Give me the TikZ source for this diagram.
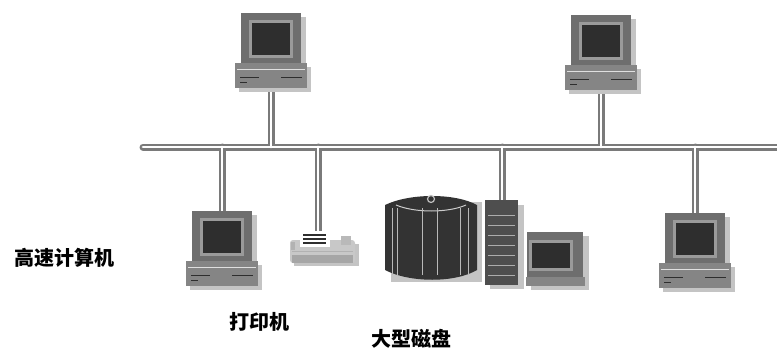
\documentclass[tikz,border=0pt]{standalone}
\usepackage{fontspec}
\newfontfamily\cjk{Noto Sans CJK SC}
\definecolor{pipegray}{HTML}{7A7A7A}
\definecolor{bodygray}{HTML}{6E6E6E}
\definecolor{bezelgray}{HTML}{9A9A9A}
\definecolor{screengray}{HTML}{2E2E2E}
\definecolor{casegray}{HTML}{858585}
\definecolor{shadowgray}{HTML}{C4C4C4}
\definecolor{diskgray}{HTML}{333333}
\definecolor{printgray}{HTML}{C8C8C8}
\begin{document}
\begin{tikzpicture}[x=1pt,y=-1pt,
  pipeouter/.style={draw=pipegray,line width=7pt,line cap=round},
  pipeinner/.style={draw=white,line width=2.8pt,line cap=round},
  lbl/.style={font=\cjk\bfseries\fontsize{20}{24}\selectfont,inner sep=0pt},
  desktop/.pic={
    % soft drop shadow
    \fill[shadowgray] (-26,-46) rectangle (35,4);
    \fill[shadowgray] (-32,4) rectangle (40,29);
    % monitor
    \fill[bodygray] (-30,-50) rectangle (30,0);
    \fill[bezelgray] (-22,-43) rectangle (22,-5);
    \fill[screengray] (-19,-40) rectangle (19,-8);
    % system case
    \fill[casegray] (-36,0) rectangle (36,25);
    \draw[white!75!gray,line width=1pt] (-34,6) -- (34,6);
    \draw[screengray,line width=1pt] (-31,14) -- (-12,14) (10,14) -- (31,14);
    \draw[screengray,line width=0.8pt] (-31,19) -- (-24,19);
    \coordinate (-top) at (0,-50);
    \coordinate (-bottom) at (0,25);
  }]
\useasboundingbox (0,0) rectangle (777,348);

% bus and tap points
\coordinate (busL) at (143,147);
\coordinate (busR) at (780,147);
\coordinate (tapA) at (222,147);
\coordinate (tapB) at (271,147);
\coordinate (tapC) at (318,147);
\coordinate (tapD) at (502,147);
\coordinate (tapE) at (601,147);
\coordinate (tapF) at (695,147);

% attach points of the devices
\coordinate (prn-top) at (318,234);
\coordinate (tower-top) at (502,202);
\coordinate (pc1-bottom) at (271,86);
\coordinate (pc2-bottom) at (601,88);
\coordinate (pc3-top) at (222,212);
\coordinate (pc4-top) at (695,214);

% cable: outer stroke, then hollow core
\foreach \s in {pipeouter,pipeinner}{
  \draw[\s] (busL) -- (busR);
  \draw[\s] (pc1-bottom) -- (tapB);
  \draw[\s] (pc2-bottom) -- (tapE);
  \draw[\s] (tapA) -- (pc3-top);
  \draw[\s] (tapC) -- (prn-top);
  \draw[\s] (tapD) -- (tower-top);
  \draw[\s] (tapF) -- (pc4-top);
}

% desktop computers
\pic (pc1) at (271,63) {desktop};
\pic (pc2) at (601,65) {desktop};
\pic (pc3) at (222,261) {desktop};
\pic (pc4) at (695,263) {desktop};

% printer
\fill[shadowgray] (294,244) rectangle (359,266);
\fill[printgray,rounded corners=3pt] (290,240) rectangle (355,263);
\fill[gray!70] (292,255) rectangle (353,263);
\draw[gray!60,line width=0.8pt] (292,251) -- (353,251);
\fill[white] (300,231) rectangle (330,247);
\draw[screengray,line width=1.8pt] (303,235) -- (326,235) (303,239) -- (326,239) (303,243) -- (326,243);
\fill[gray!55] (341,236) rectangle (351,245);
\fill[gray!60] (291,242) rectangle (295,250);

% mass storage cabinet
\fill[shadowgray] (391,202) rectangle (482,282);
\fill[diskgray] (385,205) -- (385,270) .. controls (410,283) and (455,283) .. (477,270)
  -- (477,205) .. controls (455,193) and (410,193) .. cycle;
\draw[gray!40,line width=1pt] (396,205) .. controls (415,213) and (448,213) .. (466,205);
\draw[gray!50,line width=1.2pt] (431,199) circle (3.5);
\foreach \x in {392,397,422,437,460,468}
  \draw[gray!55,line width=0.9pt] (\x,208) -- (\x,275);

% tower server with its monitor
\fill[shadowgray] (490,205) rectangle (524,289);
\fill[gray!35!diskgray] (485,200) rectangle (518,285);
\foreach \y in {215,225,235,245,255,265,275}
  \draw[gray!65,line width=0.5pt] (488,\y) -- (515,\y);
\fill[shadowgray] (531,236) rectangle (589,290);
\fill[bodygray] (527,232) rectangle (583,277);
\fill[bezelgray] (529,240) rectangle (573,271);
\fill[screengray] (532,243) rectangle (570,268);
\fill[casegray] (526,277) rectangle (585,286);

% labels
\node[lbl] (lbl-hpc) at (65,258) {高速计算机};
\node[lbl] (lbl-prn) at (259,322) {打印机};
\node[lbl] (lbl-disk) at (411,339) {大型磁盘};
\end{tikzpicture}
\end{document}
